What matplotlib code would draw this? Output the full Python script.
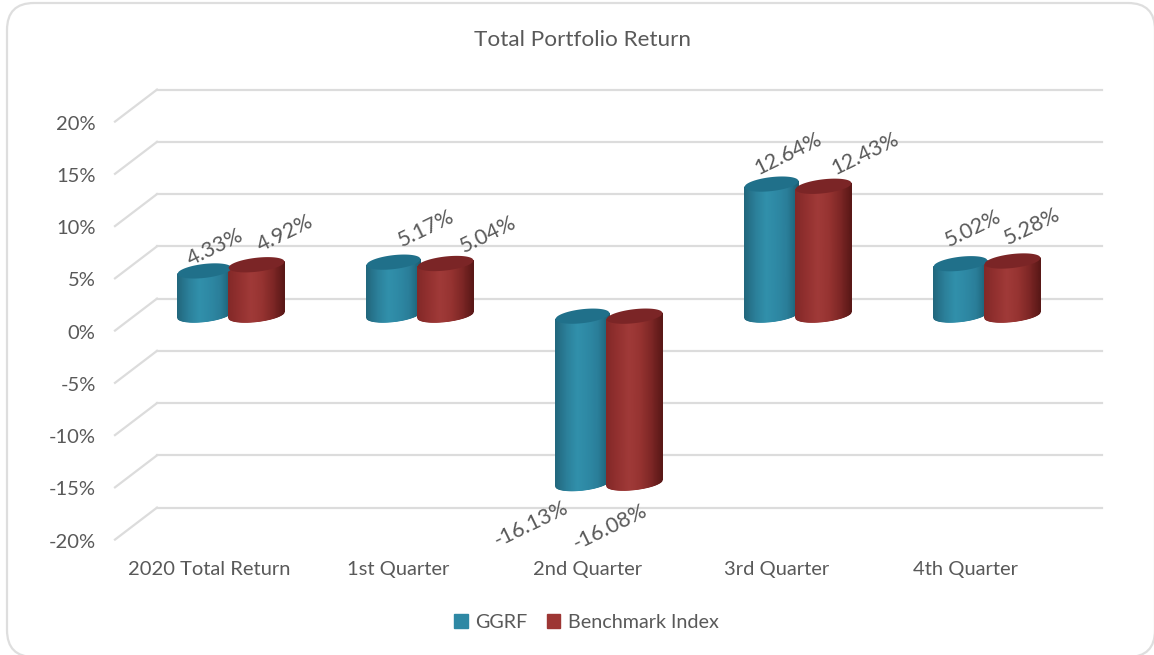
import matplotlib
matplotlib.use("Agg")
import matplotlib.pyplot as plt
from matplotlib.colors import LinearSegmentedColormap
from matplotlib.patches import FancyBboxPatch, Patch
from matplotlib.transforms import Affine2D
import numpy as np

plt.rcParams['font.family'] = ['Lato', 'DejaVu Sans']

categories = ["2020 Total Return", "1st Quarter", "2nd Quarter", "3rd Quarter", "4th Quarter"]
ggrf = [4.33, 5.17, -16.13, 12.64, 5.02]
benchmark = [4.92, 5.04, -16.08, 12.43, 5.28]
y_ticks = [-20, -15, -10, -5, 0, 5, 10, 15, 20]

# spostamento in pixel delle etichette rispetto alla cima del cilindro
ggrf_label_shift = [(11, 22), (33, 32), (-51, -41), (17, 29), (13, 34)]
bench_label_shift = [(29, 30), (43, 27), (-24, -44), (42, 31), (20, 33)]

color_grid = "#dcdcdc"
color_text = "#595959"

W, H = 1154, 655
left, right, top, bottom = 136, 1081, 105.6, 523.6
px_x = (right - left) / 5
px_y = (bottom - top) / 40
depth_x, depth_y = 21, 16

teal_map = LinearSegmentedColormap.from_list(
    "teal", ["#22677d", "#2b7f99", "#3190ab", "#2e89a5", "#2a7e99", "#1c5f74"])
red_map = LinearSegmentedColormap.from_list(
    "red", ["#832928", "#933130", "#a03a38", "#973432", "#7f2726", "#591817"])


def shift(ax, dx, dy):
    # dy in pixel verso l'alto
    return ax.transData + Affine2D().translate(dx, dy)


def drawCylinder(ax, xc, value, cmap, cap, half_w=27, half_h=7, tilt=0.11):
    u = np.linspace(-1, 1, 60)
    arc = half_h * np.sqrt(1 - u ** 2) / px_y
    slope = tilt * half_w * u / px_y
    x = xc + u * half_w / px_x
    # i cilindri partono un po' sotto lo zero del piano medio
    high, low = max(value, 0) - 0.15, min(value, 0)

    X = np.vstack([x, x])
    Y = np.vstack([low + slope - arc, high + slope])
    C = np.vstack([u, u])
    ax.pcolormesh(X, Y, C, cmap=cmap, shading="gouraud", zorder=3, clip_on=False)
    ax.fill(np.r_[x, x[::-1]], np.r_[high + slope - arc, (high + slope + arc)[::-1]],
            color=cap, lw=0, zorder=4, clip_on=False)


def plotReturns():
    fig = plt.figure(figsize=(W / 100, H / 100), dpi=100)
    ax = fig.add_axes([left / W, 1 - bottom / H, (right - left) / W, (bottom - top) / H])
    ax.set_xlim(-0.5, 4.5)
    ax.set_ylim(-20, 20)
    for s in ax.spines.values():
        s.set_visible(False)
    ax.patch.set_visible(False)

    fig.patches.append(FancyBboxPatch((7, -2), W - 6, H - 1, boxstyle="round,pad=0,rounding_size=27",
                                      fc="white", ec="#dedede", lw=1.6, transform=None, zorder=-5))

    # griglia: parete di fondo e fianco sinistro
    back = shift(ax, depth_x, depth_y)
    for v in y_ticks:
        ax.plot([-0.5, 4.5], [v, v], color=color_grid, lw=1.6, transform=back, zorder=1, clip_on=False)
        x0 = ax.transData.transform((-0.5, v))
        xs = [x0[0] - depth_x, x0[0] + depth_x]
        ys = [x0[1] - depth_y, x0[1] + depth_y]
        ax.plot(xs, ys, color=color_grid, lw=1.6, transform=None, zorder=1, clip_on=False)

    for i in range(len(categories)):
        drawCylinder(ax, i - 26 / px_x, ggrf[i], teal_map, "#20708a")
        drawCylinder(ax, i + 26 / px_x, benchmark[i], red_map, "#7b2526", half_w=28)

        ax.annotate("%.2f%%" % ggrf[i], (i - 26 / px_x, ggrf[i]), xytext=ggrf_label_shift[i],
                    textcoords="offset pixels", rotation=26, ha="center", va="center",
                    fontsize=15.5, color=color_text, zorder=5)
        ax.annotate("%.2f%%" % benchmark[i], (i + 26 / px_x, benchmark[i]), xytext=bench_label_shift[i],
                    textcoords="offset pixels", rotation=26, ha="center", va="center",
                    fontsize=15.5, color=color_text, zorder=5)

    ax.set_xticks(range(len(categories)))
    ax.set_xticklabels(categories, fontsize=14.5, color=color_text)
    ax.set_yticks(y_ticks)
    ax.set_yticklabels(["%d%%" % v for v in y_ticks], fontsize=14.5, color=color_text)
    ax.tick_params(axis="x", length=0, pad=27)
    ax.tick_params(axis="y", length=0, pad=29)
    for label in ax.get_yticklabels():
        label.set_transform(label.get_transform() + Affine2D().translate(0, -depth_y - 1))
    for label in ax.get_xticklabels():
        label.set_transform(label.get_transform() + Affine2D().translate(-depth_x, 0))

    fig.text(582 / W, 1 - 40 / H, "Total Portfolio Return", fontsize=16.2, color=color_text,
             ha="center", va="center")

    handles = [Patch(color="#2e88a4", label="GGRF"), Patch(color="#9d3634", label="Benchmark Index")]
    fig.legend(handles=handles, loc="center", bbox_to_anchor=(586.5 / W, 1 - 622 / H), ncol=2, frameon=False,
               fontsize=14.2, labelcolor=color_text, handlelength=0.7, handleheight=0.7,
               handletextpad=0.4, columnspacing=0.95)

    fig.savefig("out.png", dpi=100)


plotReturns()
